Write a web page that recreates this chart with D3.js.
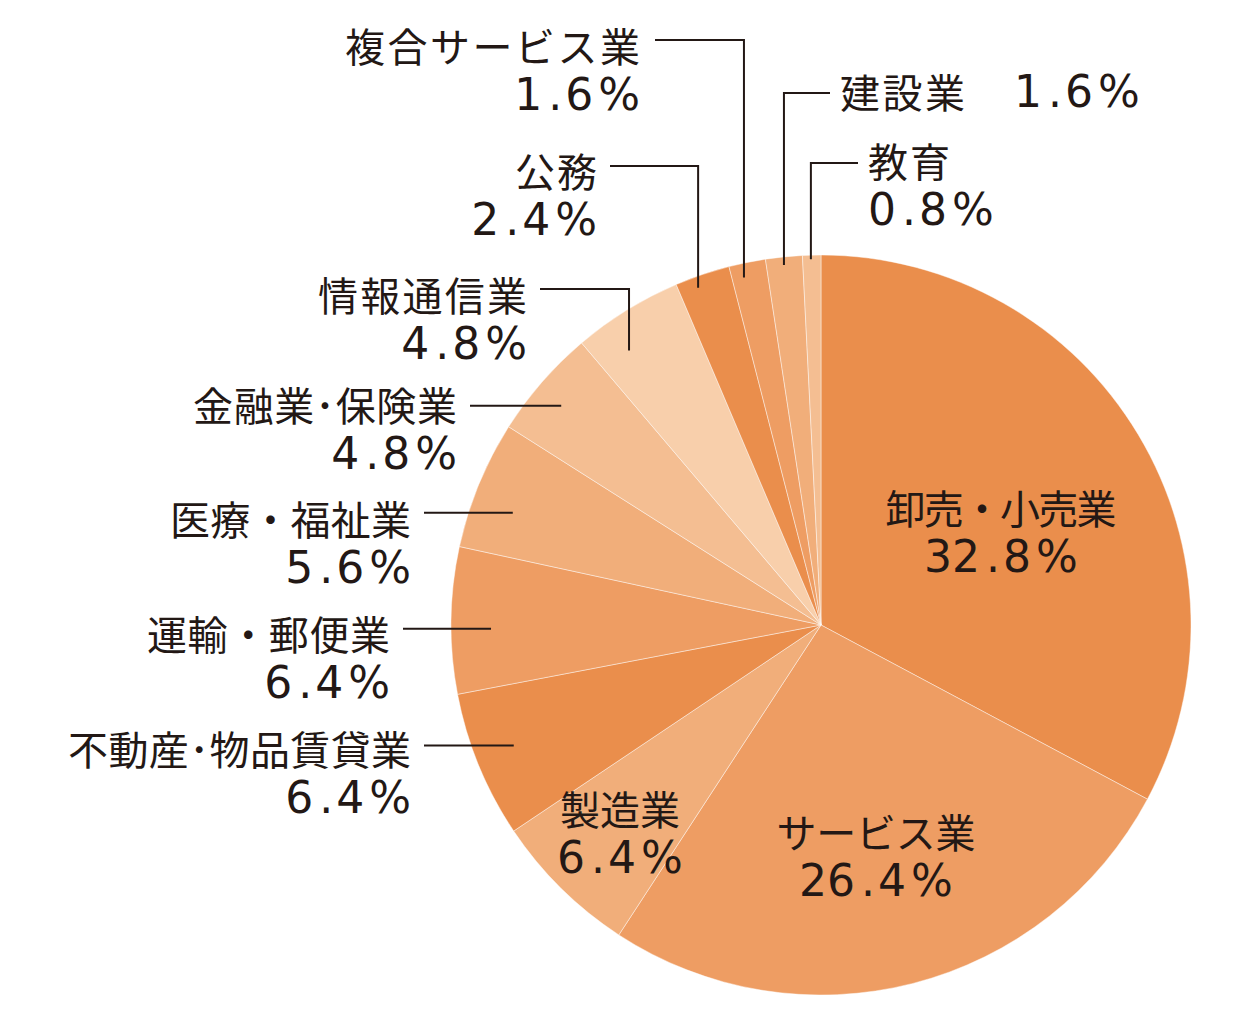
<!DOCTYPE html>
<html lang="ja">
<head>
<meta charset="utf-8">
<script src="https://cdn.jsdelivr.net/npm/d3@7"></script>
<style>
  html, body { margin: 0; padding: 0; background: #fff; }
  svg { display: block; }
</style>
</head>
<body>
<svg id="chart" width="1260" height="1020"></svg>
<script>
// data (share of total, %)
const categories = [
  "卸売・小売業", "サービス業", "製造業", "不動産･物品賃貸業", "運輸・郵便業",
  "医療・福祉業", "金融業･保険業", "情報通信業", "公務", "複合サービス業", "建設業", "教育"
];
const values = [32.8, 26.4, 6.4, 6.4, 6.4, 5.6, 4.8, 4.8, 2.4, 1.6, 1.6, 0.8];

const shades = {
  dark: "#ea8e4c",
  mid: "#ee9d63",
  light: "#f1ae7a",
  lighter: "#f4be92",
  lightest: "#f8cfab"
};
const sliceColors = [
  shades.dark, shades.mid, shades.light, shades.dark, shades.mid, shades.light,
  shades.lighter, shades.lightest, shades.dark, shades.mid, shades.light, shades.lighter
];

const options = {
  cx: 821,
  cy: 625,
  radius: 370,
  textColor: "#231815",
  lineColor: "#231815",
  nameFont: "'Noto Sans CJK JP', sans-serif",
  numFont: "'DejaVu Sans', sans-serif",
  nameSize: 40,
  numSize: 44,
  lineGap: 49,
  gapPoint: 6,   // extra room before the decimal point
  gapDecimal: 3, // after it
  gapPct: 5      // before the percent sign
};

// label placement: w = width of the name line; inside labels are centred,
// outside ones get a leader (t = position inside the slice, r = radius it ends at)
const layout = {
  "卸売・小売業": { inside: true, x: 1001, y: 507, w: 231 },
  "サービス業": { inside: true, x: 876, y: 831, w: 199 },
  "製造業": { inside: true, x: 620, y: 808, w: 120 },
  "不動産･物品賃貸業": { x: 411, y: 748, w: 343, anchor: "end", lineX: 424, t: 0.54, r: 330 },
  "運輸・郵便業": { x: 390, y: 633, w: 243, anchor: "end", lineX: 403, t: 0.44, r: 330 },
  "医療・福祉業": { x: 411, y: 518, w: 241, anchor: "end", lineX: 424, t: 0.385, r: 328 },
  "金融業･保険業": { x: 457, y: 404, w: 264, anchor: "end", lineX: 470, t: 0.45, r: 340 },
  "情報通信業": { x: 527, y: 294, w: 209, anchor: "end", lineX: 540, elbowY: 289, t: 0.31, r: 335 },
  "公務": { x: 597, y: 170, w: 82, anchor: "end", lineX: 610, elbowY: 166, t: 0.35, r: 359 },
  "複合サービス業": { x: 640, y: 45, w: 295, anchor: "end", lineX: 655, elbowY: 40, t: 0.33, r: 356 },
  "建設業": { x: 840, y: 91, w: 125, anchor: "start", lineX: 830, elbowY: 93, t: 0.48, r: 362, sameLine: 1014 },
  "教育": { x: 868, y: 160, w: 82, anchor: "start", lineX: 858, elbowY: 163, t: 0.45, r: 366 }
};

const svg = d3.select("#chart");
const g = svg.append("g").attr("transform", `translate(${options.cx},${options.cy})`);

const pie = d3.pie().sort(null).value((d) => d.value);
const arc = d3.arc().innerRadius(0).outerRadius(options.radius);

const data = categories.map((name, i) => ({ name, value: values[i], color: sliceColors[i] }));
const arcs = pie(data);

g.selectAll("path.slice")
  .data(arcs)
  .join("path")
  .attr("class", "slice")
  .attr("d", arc)
  .attr("fill", (d) => d.data.color)
  .attr("stroke", "#fff")
  .attr("stroke-opacity", 0.55)
  .attr("stroke-width", 0.8);

function pointOnSlice(d, t, r) {
  const a = d.startAngle + t * (d.endAngle - d.startAngle);
  return [options.cx + r * Math.sin(a), options.cy - r * Math.cos(a)];
}

// "5.6%" is typeset loosely around the point and the percent sign
function writePct(sel, v) {
  const [whole, frac] = v.toFixed(1).split(".");
  sel.append("tspan").text(whole);
  sel.append("tspan").attr("dx", options.gapPoint).text(".");
  sel.append("tspan").attr("dx", options.gapDecimal).text(frac);
  sel.append("tspan").attr("dx", options.gapPct).text("%");
}

const labels = svg.append("g");

arcs.forEach((d) => {
  const L = layout[d.data.name];
  const anchor = L.inside ? "middle" : L.anchor;

  labels.append("text")
    .attr("x", L.x)
    .attr("y", L.y)
    .attr("text-anchor", anchor)
    .attr("dominant-baseline", "central")
    .attr("font-family", options.nameFont)
    .attr("font-size", options.nameSize)
    .attr("textLength", L.w)
    .attr("lengthAdjust", "spacing")
    .attr("fill", options.textColor)
    .text(d.data.name);

  labels.append("text")
    .attr("x", L.sameLine ? L.sameLine : L.x)
    .attr("y", L.sameLine ? L.y : L.y + options.lineGap)
    .attr("text-anchor", L.sameLine ? "start" : anchor)
    .attr("dominant-baseline", "central")
    .attr("font-family", options.numFont)
    .attr("font-size", options.numSize)
    .attr("fill", options.textColor)
    .call(writePct, d.data.value);

  if (L.inside) return;

  const [tx, ty] = pointOnSlice(d, L.t, L.r);
  const pts = L.elbowY !== undefined
    ? [[L.lineX, L.elbowY], [tx, L.elbowY], [tx, ty]]
    : [[L.lineX, ty], [tx, ty]];

  labels.append("path")
    .attr("d", d3.line()(pts))
    .attr("fill", "none")
    .attr("stroke", options.lineColor)
    .attr("stroke-width", 2);
});
</script>
</body>
</html>
